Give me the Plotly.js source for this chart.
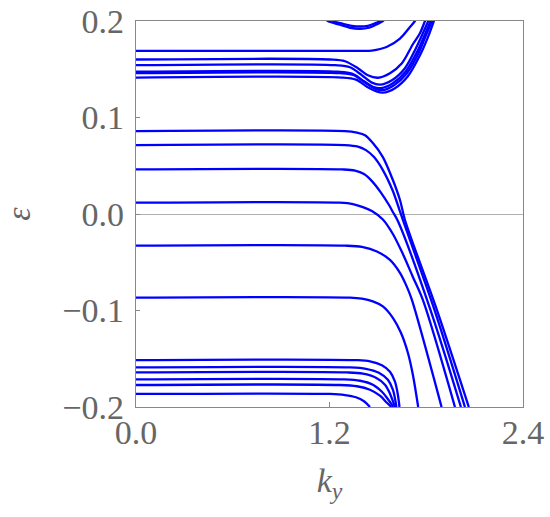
<!DOCTYPE html>
<html>
<head>
<meta charset="utf-8">
<script src="https://cdn.plot.ly/plotly-3.0.1.min.js"></script>
<style>html,body{margin:0;padding:0;background:#fff;}#chart{width:550px;height:517px;}</style>
</head>
<body>
<div id="chart"></div>
<script>
// Tick labels
const xTickVals = [0, 1.2, 2.4];
const xTickText = ["0.0", "1.2", "2.4"];
const yTickVals = [-0.2, -0.1, 0, 0.1, 0.2];
const yTickText = ["\u22120.2", "\u22120.1", "0.0", "0.1", "0.2"];

// Upper band group (levels near 0.14-0.17 that dip then rise)
const kT1 = [0, 1.389, 1.463, 1.554, 1.637, 1.699, 1.730, 1.755];
const eT1 = [0.1690, 0.1690, 0.1694, 0.1731, 0.1818, 0.1938, 0.2000, 0.2059];
const kT2 = [0, 1.203, 1.296, 1.376, 1.438, 1.500, 1.575, 1.649, 1.717, 1.761, 1.792, 1.810];
const eT2 = [0.1601, 0.1601, 0.1583, 0.1511, 0.1438, 0.1412, 0.1459, 0.1562, 0.1759, 0.1873, 0.2000, 0.2080];
const kT3 = [0, 1.234, 1.327, 1.401, 1.463, 1.513, 1.587, 1.668, 1.736, 1.779, 1.812, 1.829];
const eT3 = [0.1542, 0.1542, 0.1521, 0.1438, 0.1361, 0.1340, 0.1386, 0.1511, 0.1718, 0.1873, 0.2000, 0.2080];
const kT4 = [0, 1.252, 1.339, 1.414, 1.469, 1.519, 1.593, 1.674, 1.748, 1.792, 1.826, 1.841];
const eT4 = [0.1474, 0.1474, 0.1454, 0.1376, 0.1319, 0.1304, 0.1355, 0.1480, 0.1697, 0.1862, 0.2000, 0.2080];
const kT5 = [0, 1.265, 1.352, 1.426, 1.482, 1.525, 1.600, 1.680, 1.755, 1.798, 1.835, 1.851];
const eT5 = [0.1459, 0.1459, 0.1438, 0.1355, 0.1299, 0.1283, 0.1335, 0.1459, 0.1676, 0.1852, 0.2000, 0.2080];
const kT6 = [0, 1.277, 1.364, 1.432, 1.488, 1.531, 1.606, 1.686, 1.761, 1.810, 1.847, 1.863];
const eT6 = [0.1414, 0.1414, 0.1392, 0.1319, 0.1273, 0.1257, 0.1304, 0.1428, 0.1645, 0.1831, 0.2000, 0.2080];
// Partial bands dipping below the top edge
const kP1 = [1.141, 1.190, 1.265, 1.327, 1.389, 1.445, 1.494, 1.531, 1.575];
const eP1 = [0.2069, 0.2000, 0.1961, 0.1930, 0.1919, 0.1930, 0.1966, 0.2000, 0.2069];
const kP2 = [1.172, 1.221, 1.283, 1.339, 1.389, 1.438, 1.482, 1.513, 1.550];
const eP2 = [0.2069, 0.2000, 0.1971, 0.1950, 0.1943, 0.1950, 0.1976, 0.2000, 0.2069];

// Middle group (levels that fall through zero)
const kM1 = [0, 1.296, 1.370, 1.420, 1.469, 1.531, 1.593, 1.637, 1.668, 1.866, 2.064];
const eM1 = [0.0859, 0.0859, 0.0843, 0.0817, 0.0735, 0.0590, 0.0352, 0.0145, -0.0062, -0.0993, -0.2000];
const kM2 = [0, 1.296, 1.376, 1.426, 1.476, 1.531, 1.593, 1.634, 1.655, 1.851, 2.040];
const eM2 = [0.0714, 0.0714, 0.0698, 0.0662, 0.0590, 0.0455, 0.0238, 0.0041, -0.0062, -0.0993, -0.2000];
const kM3 = [0, 1.277, 1.358, 1.414, 1.463, 1.519, 1.569, 1.593, 1.624, 1.826, 2.015];
const eM3 = [0.0462, 0.0462, 0.0450, 0.0414, 0.0341, 0.0222, 0.0093, 0.0021, -0.0072, -0.0993, -0.2000];
const kM4 = [0, 1.265, 1.345, 1.407, 1.463, 1.531, 1.593, 1.655, 1.717, 1.779, 1.978];
const eM4 = [0.0117, 0.0117, 0.0103, 0.0072, 0.0031, -0.0057, -0.0207, -0.0414, -0.0652, -0.0890, -0.2000];
const kM5 = [0, 1.296, 1.401, 1.494, 1.575, 1.637, 1.680, 1.711, 1.895];
const eM5 = [-0.0328, -0.0328, -0.0341, -0.0388, -0.0476, -0.0610, -0.0755, -0.0890, -0.2000];
const kM6 = [0, 1.327, 1.401, 1.469, 1.531, 1.593, 1.643, 1.686, 1.717, 1.750];
const eM6 = [-0.0866, -0.0866, -0.0877, -0.0905, -0.0957, -0.1076, -0.1231, -0.1438, -0.1666, -0.2000];

// Lower group (levels near -0.15 to -0.19)
const kB1 = [0, 1.358, 1.451, 1.525, 1.575, 1.606, 1.624, 1.634];
const eB1 = [-0.1514, -0.1514, -0.1526, -0.1568, -0.1635, -0.1738, -0.1873, -0.2000];
const kB2 = [0, 1.327, 1.426, 1.506, 1.562, 1.593, 1.615];
const eB2 = [-0.1590, -0.1590, -0.1604, -0.1645, -0.1718, -0.1821, -0.2000];
const kB3 = [0, 1.308, 1.407, 1.488, 1.544, 1.575, 1.606];
const eB3 = [-0.1642, -0.1642, -0.1655, -0.1697, -0.1769, -0.1862, -0.2000];
const kB4 = [0, 1.290, 1.389, 1.469, 1.525, 1.556, 1.596];
const eB4 = [-0.1714, -0.1714, -0.1728, -0.1769, -0.1842, -0.1904, -0.2000];
const kB5 = [0, 1.265, 1.370, 1.451, 1.513, 1.556, 1.584];
const eB5 = [-0.1772, -0.1772, -0.1785, -0.1821, -0.1883, -0.1956, -0.2000];
const kB6 = [0, 1.203, 1.296, 1.364, 1.414, 1.451];
const eB6 = [-0.1865, -0.1865, -0.1876, -0.1899, -0.1940, -0.2000];

const curves = [
  [kT1, eT1], [kT2, eT2], [kT3, eT3], [kT4, eT4], [kT5, eT5], [kT6, eT6],
  [kP1, eP1], [kP2, eP2],
  [kM1, eM1], [kM2, eM2], [kM3, eM3], [kM4, eM4], [kM5, eM5], [kM6, eM6],
  [kB1, eB1], [kB2, eB2], [kB3, eB3], [kB4, eB4], [kB5, eB5], [kB6, eB6]
];

const traces = curves.map(c => ({
  x: c[0], y: c[1], type: 'scatter', mode: 'lines',
  line: {color: '#0000ff', width: 2.3, shape: 'spline', smoothing: 0.9},
  hoverinfo: 'skip', showlegend: false
}));

const fontFam = '"Liberation Serif", "Times New Roman", Times, serif';
const txtColor = '#666666';

const layout = {
  width: 550, height: 517,
  margin: {l: 136, r: 27, t: 21, b: 110, pad: 0},
  paper_bgcolor: '#ffffff', plot_bgcolor: '#ffffff',
  showlegend: false,
  font: {family: fontFam, color: txtColor, size: 34},
  xaxis: {
    range: [0, 2.4], tickvals: xTickVals, ticktext: xTickText,
    ticks: 'inside', ticklen: 5, tickwidth: 1, tickcolor: '#888888',
    showline: true, linecolor: '#888888', linewidth: 1.2, mirror: true,
    showgrid: false, zeroline: false,
    tickfont: {family: fontFam, size: 34, color: txtColor},
    ticklabelstandoff: -5,
    title: {text: '<i>k</i><sub><i>y</i></sub>', font: {family: fontFam, size: 34, color: txtColor}, standoff: 18}
  },
  yaxis: {
    range: [-0.2, 0.2], tickvals: yTickVals, ticktext: yTickText,
    ticks: 'inside', ticklen: 4, tickwidth: 1, tickcolor: '#888888',
    showline: true, linecolor: '#888888', linewidth: 1.2, mirror: true,
    showgrid: false, zeroline: true, zerolinecolor: '#b0b0b0', zerolinewidth: 1,
    tickfont: {family: fontFam, size: 34, color: txtColor},
    ticklabelstandoff: 4,
    title: {text: '<i>ε</i>', font: {family: fontFam, size: 34, color: txtColor}, standoff: 26}
  }
};

Plotly.newPlot('chart', traces, layout, {staticPlot: true, displayModeBar: false});
</script>
</body>
</html>
